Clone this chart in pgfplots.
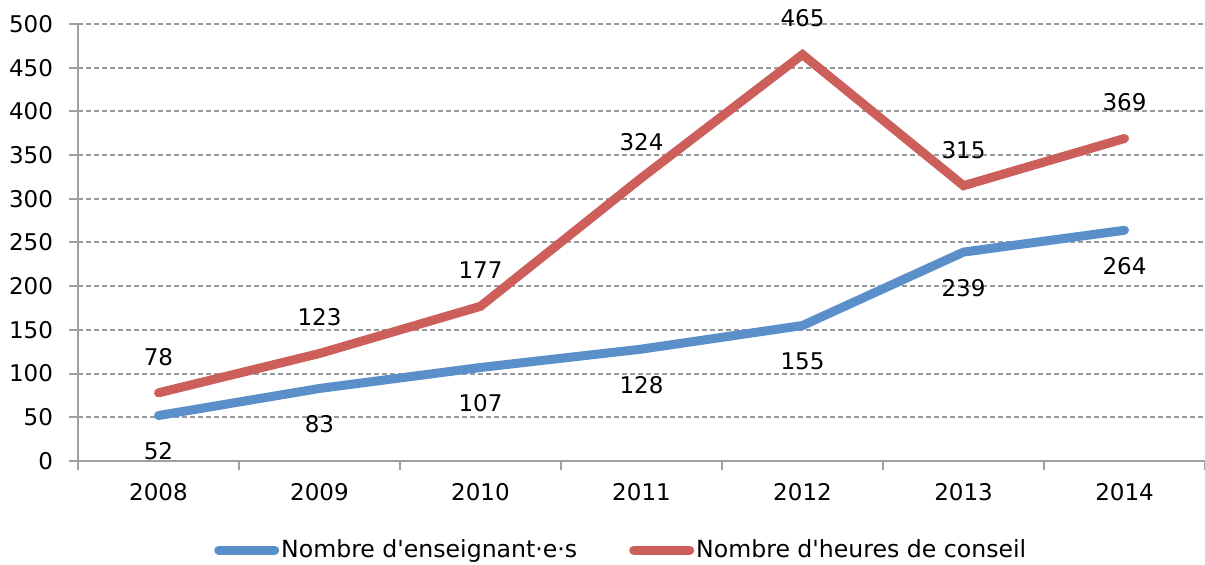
\documentclass[border=0pt]{standalone}
\usepackage{fontspec}
\setmainfont{DejaVu Sans}[Ligatures=TeXOff]
\usepackage{pgfplots}
\pgfplotsset{compat=1.18}
\definecolor{cblue}{HTML}{5B8FC9}
\definecolor{cred}{HTML}{CC5F5A}
\definecolor{cgrid}{HTML}{A0A0A0}
\definecolor{cdash}{HTML}{999999}
\begin{document}
\fontsize{11.5}{13.8}\selectfont
\begin{tikzpicture}
\begin{axis}[
  name=ax,
  scale only axis,
  width=563.5pt, height=218.5pt,
  xmin=-0.5, xmax=6.5, ymin=0, ymax=500,
  axis x line*=bottom, axis y line*=left,
  axis line style={draw=cgrid, line width=1pt, -},
  xtick={-0.5,0.5,1.5,2.5,3.5,4.5,5.5,6.5},
  x tick label as interval,
  xticklabels={2008,2009,2010,2011,2012,2013,2014},
  ytick={0,50,...,500},
  tick align=outside, major tick length=4.5pt,
  tick style={draw=cgrid, line width=1pt},
  ymajorgrids,
  grid style={draw=cdash, line width=1pt, dash pattern=on 2.5pt off 1.5pt},
  yticklabel style={xshift=-4pt},
  xticklabel style={yshift=-2.5pt},
  /pgf/number format/assume math mode=true,
  /pgf/number format/1000 sep={},
  clip=false,
  legend style={at={(0.482,-0.204)}, anchor=center, draw=none, fill=none,
    legend columns=2, font=\fontsize{11.8}{14}\selectfont,
    nodes={inner xsep=1pt},
    /tikz/every even column/.append style={column sep=25pt},
    /tikz/every odd column/.append style={column sep=0pt}},
  legend image code/.code={\draw[#1, line cap=round] (0pt,0pt) -- (28pt,0pt);},
]
\addplot[cblue, line width=4.5pt, line join=miter, line cap=round,
  nodes near coords,
  every node near coord/.append style={text=black, anchor=center, yshift=-18pt}]
  coordinates {(0,52) (1,83) (2,107) (3,128) (4,155) (5,239) (6,264)};
\addlegendentry{Nombre d'enseignant·e·s}
\addplot[cred, line width=4.5pt, line join=miter, line cap=round,
  nodes near coords,
  every node near coord/.append style={text=black, anchor=center, yshift=18pt}]
  coordinates {(0,78) (1,123) (2,177) (3,324) (4,465) (5,315) (6,369)};
\addlegendentry{Nombre d'heures de conseil}
\end{axis}
\pgfresetboundingbox
\path ([xshift=-39pt,yshift=-52pt]ax.south west) rectangle ([yshift=12pt]ax.north east);
\end{tikzpicture}
\end{document}
